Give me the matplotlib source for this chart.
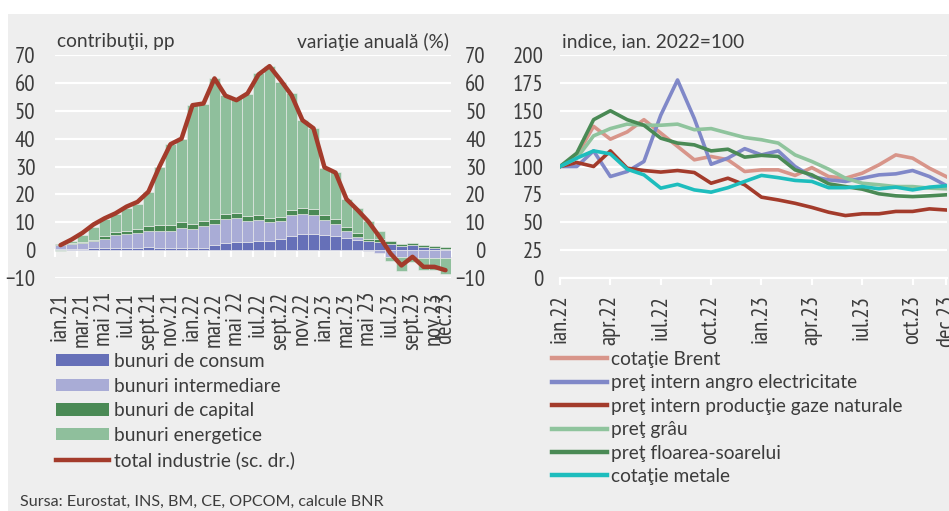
import numpy as np
import matplotlib
matplotlib.use("Agg")
import matplotlib.pyplot as plt
from matplotlib import font_manager as fm
from matplotlib.patches import Rectangle, Patch
from matplotlib.lines import Line2D

#//data\\#

# left panel: contributions (pp), jan.21 - dec.23
consum = [0.5, 0.5, 0.5, 0.6, 0.8, 0.8, 0.8, 0.8, 1.0, 0.9, 0.8, 0.8,
          0.8, 0.8, 1.8, 2.6, 2.9, 3.0, 3.3, 3.3, 4.0, 5.1, 5.9, 5.9,
          5.5, 5.1, 4.3, 3.8, 3.2, 2.9, 2.3, 1.6, 1.8, 1.1, 0.7, 0.3]
intermediare = [1.2, 1.6, 2.1, 2.5, 3.2, 4.7, 5.0, 5.4, 5.8, 6.1, 6.1, 7.2,
                6.8, 7.8, 7.5, 8.4, 8.7, 7.5, 7.5, 6.7, 6.6, 7.5, 7.2, 6.7,
                5.3, 4.1, 2.5, 1.0, -0.3, -1.1, -2.4, -2.4, -2.7, -2.7, -2.7, -2.7]
capital = [0.4, 0.5, 0.4, 0.5, 1.0, 0.9, 1.0, 1.3, 1.8, 2.0, 2.1, 2.0,
           1.8, 1.9, 1.7, 1.8, 1.8, 1.7, 1.8, 1.6, 1.2, 1.8, 1.9, 2.0,
           1.9, 1.8, 1.6, 1.4, 0.8, 1.2, 0.8, 0.6, 0.6, 0.7, 0.9, 1.0]
energetice = [-0.3, 0.6, 2.4, 4.7, 6.0, 6.6, 8.2, 9.2, 12.4, 21.0, 29.0, 30.0,
              42.6, 42.1, 50.6, 42.8, 41.0, 43.8, 50.8, 54.4, 48.6, 41.8, 31.6, 29.1,
              16.6, 17.0, 10.1, 8.8, 6.4, 2.6, -1.4, -5.2, -1.7, -4.5, -4.5, -5.7]
total_ind = [1.8, 3.8, 6.2, 9.2, 11.4, 13.2, 15.6, 17.3, 21.0, 30.0, 38.0, 40.0,
             52.0, 52.6, 61.6, 55.4, 53.8, 56.2, 63.0, 66.0, 61.0, 55.6, 46.6, 43.7,
             29.7, 27.8, 18.3, 14.4, 10.2, 4.8, -1.2, -5.5, -2.4, -6.0, -6.0, -7.2]
etich_st = ["ian.21", "mar.21", "mai 21", "iul.21", "sept.21", "nov.21",
            "ian.22", "mar.22", "mai 22", "iul.22", "sept.22", "nov.22",
            "ian.23", "mar.23", "mai 23", "iul.23", "sept.23", "nov.23", "dec.23"]
poz_st = [0, 2, 4, 6, 8, 10, 12, 14, 16, 18, 20, 22, 24, 26, 28, 30, 32, 34, 35]

# right panel: index jan.2022=100, jan.22 - dec.23
brent = [100, 110, 136, 124.5, 131, 142, 130, 118, 106, 109, 106, 95.5,
         97, 97, 92, 99, 91, 89.5, 94, 101.5, 110.4, 107.5, 98.5, 91]
electr = [100, 100, 114, 91, 95.5, 104.5, 146, 177.6, 143, 102, 107.5, 116,
          110.4, 114, 100, 91, 88, 86.6, 89.5, 92.5, 93.4, 96.4, 91, 83]
gaze = [100, 103.6, 100, 114, 98.5, 96.4, 95, 96.4, 94.6, 85, 89.5, 83.6,
        72.5, 70, 67, 63.3, 59, 56, 57.6, 57.6, 59.7, 59.7, 62, 61]
grau = [100, 107.5, 127.5, 134, 138, 137, 137, 138, 133, 134, 130, 126,
        124, 121, 110.4, 104.5, 97.6, 89.5, 85, 83.6, 82, 82, 80.6, 80]
floarea = [100, 112, 142, 150, 142, 137, 125.4, 121, 119.4, 114, 115.5, 108.4,
           110, 109, 97, 92.5, 84.5, 82, 79.7, 75.5, 73.7, 73, 73.7, 74.6]
metale = [100, 107.5, 114, 111.3, 97.6, 92.5, 80.6, 84, 79, 77, 81, 86.6,
          92, 90, 87.5, 86.6, 81, 81, 82, 80, 81.5, 79, 81.5, 82.7]
etich_dr = ["ian.22", "apr.22", "iul.22", "oct.22", "ian.23",
            "apr.23", "iul.23", "oct.23", "dec.23"]
poz_dr = [0, 3, 6, 9, 12, 15, 18, 21, 23]

#//style\\#
BG = "#eeeeee"
TXT = "#3c3c3c"
plt.rcParams["font.family"] = ["Lato", "DejaVu Sans"]
plt.rcParams["text.color"] = TXT

#--narrow face for the numbers, first one that is installed--#
names = set(f.name for f in fm.fontManager.ttflist)
NARROW = [f for f in ["PT Sans Narrow", "Roboto Condensed", "Archivo Narrow",
                      "Asap Condensed", "Liberation Sans Narrow"] if f in names][:1] + ["DejaVu Sans"]
NUM = fm.FontProperties(family=NARROW, size=16.5)

W, H = 949, 511
fig = plt.figure(figsize=(W / 100, H / 100), dpi=100)
fig.patch.set_facecolor("white")
fig.patches.append(Rectangle((8 / W, 0), 1 - 8 / W, 1 - 14 / H, transform=fig.transFigure,
                             facecolor=BG, edgecolor="none", zorder=-10))


def fa(x0, x1, ytop, ybot):
    return [x0 / W, 1 - ybot / H, (x1 - x0) / W, (ybot - ytop) / H]


#---left panel---#
ax = fig.add_axes(fa(55, 451, 55, 278))
ax.set_facecolor(BG)
ax.set_axisbelow(True)
n = len(consum)
x = np.arange(n)
serii = [(consum, "#6670b8", "bunuri de consum"),
         (intermediare, "#a9acd6", "bunuri intermediare"),
         (capital, "#4a8a55", "bunuri de capital"),
         (energetice, "#8fbf9c", "bunuri energetice")]
pos_b = np.zeros(n)
neg_b = np.zeros(n)
for vals, col, lab in serii:
    v = np.array(vals, dtype=float)
    b = np.where(v >= 0, pos_b, neg_b)
    ax.bar(x, v, bottom=b, width=0.92, color=col, edgecolor=BG, linewidth=0.4, zorder=2)
    pos_b = pos_b + np.where(v >= 0, v, 0)
    neg_b = neg_b + np.where(v < 0, v, 0)

ax.set_xlim(-0.5, n - 0.5)
ax.set_ylim(-10, 70)
ax.set_yticks(range(-10, 71, 10))
ax.grid(axis="y", color="white", linewidth=1.6)
for s in ax.spines.values():
    s.set_visible(False)
ax.tick_params(axis="y", length=0, pad=14, labelcolor=TXT)
for t in ax.get_yticklabels():
    t.set_fontproperties(NUM)
ax.set_xticks(poz_st)
ax.set_xticklabels(etich_st, rotation=90, color=TXT, va="top", fontproperties=NUM)
ax.tick_params(axis="x", length=0, pad=10)

# zero line with white ticks between months
zero = ax.secondary_xaxis(0, transform=ax.transData)
zero.spines["bottom"].set_color("white")
zero.spines["bottom"].set_linewidth(1.6)
zero.set_xticks(np.arange(-0.5, n, 2))
zero.tick_params(axis="x", colors="white", length=5, width=1.6, labelbottom=False)

ax2 = ax.twinx()
ax2.plot(x, total_ind, color="#a33b2b", linewidth=3.2, solid_capstyle="round", zorder=5)
ax2.set_ylim(-10, 70)
ax2.set_yticks(range(-10, 71, 10))
for s in ax2.spines.values():
    s.set_visible(False)
ax2.tick_params(axis="y", length=0, pad=25, labelcolor=TXT)
for t in ax2.get_yticklabels():
    t.set_fontproperties(NUM)
    t.set_horizontalalignment("right")

fig.text(57 / W, 1 - 42 / H, "contribuţii, pp", fontsize=13.8, va="center", ha="left")
fig.text(449 / W, 1 - 42 / H, "variaţie anuală (%)", fontsize=13.8, va="center", ha="right")

#---right panel---#
bx = fig.add_axes(fa(560, 947, 55, 278))
bx.set_facecolor(BG)
bx.set_axisbelow(True)
t = np.arange(len(brent))
linii = [(brent, "#d8958a", "cotaţie Brent"),
         (electr, "#8088c8", "preţ intern angro electricitate"),
         (gaze, "#a33b2b", "preţ intern producţie gaze naturale"),
         (grau, "#8fc49d", "preţ grâu"),
         (floarea, "#4a8a55", "preţ floarea-soarelui"),
         (metale, "#1dbdbd", "cotaţie metale")]
for vals, col, lab in linii:
    bx.plot(t, vals, color=col, linewidth=2.6, label=lab, zorder=3)
bx.set_xlim(0, len(brent) - 1 + 0.05)
bx.set_ylim(0, 200)
bx.set_yticks(range(0, 201, 25))
bx.grid(axis="y", color="white", linewidth=1.6)
for k, s in bx.spines.items():
    s.set_visible(k == "bottom")
bx.spines["bottom"].set_color("white")
bx.spines["bottom"].set_linewidth(1.6)
bx.tick_params(axis="y", length=0, pad=12, labelcolor=TXT)
for tl in bx.get_yticklabels():
    tl.set_fontproperties(NUM)
bx.set_xticks(poz_dr)
bx.set_xticklabels(etich_dr, rotation=90, color=TXT, va="top", fontproperties=NUM)
bx.tick_params(axis="x", colors="white", length=5, width=1.6, pad=7, labelcolor=TXT)
fig.text(562 / W, 1 - 42 / H, "indice, ian. 2022=100", fontsize=13.8, va="center", ha="left")

#---legends---#
h1 = [Patch(facecolor=c, edgecolor="none", label=l) for _, c, l in serii]
h1.append(Line2D([], [], color="#a33b2b", linewidth=3.2, label="total industrie (sc. dr.)"))
fig.legend(handles=h1, loc="upper left", bbox_to_anchor=(56 / W, 1 - 353 / H), frameon=False,
           fontsize=13.8, handlelength=2.75, handleheight=0.6, handletextpad=0.3,
           labelspacing=0.4, borderaxespad=0, borderpad=0, labelcolor=TXT)
h2 = [Line2D([], [], color=c, linewidth=3.2, label=l) for _, c, l in linii]
fig.legend(handles=h2, loc="upper left", bbox_to_anchor=(552 / W, 1 - 351 / H), frameon=False,
           fontsize=13.8, handlelength=2.85, handletextpad=0.25,
           labelspacing=0.335, borderaxespad=0, borderpad=0, labelcolor=TXT)

fig.text(20 / W, 1 - 502 / H, "Sursa: Eurostat, INS, BM, CE, OPCOM, calcule BNR",
         va="center", ha="left", fontsize=11.6)

plt.savefig("out.png", dpi=100, facecolor=fig.get_facecolor())
